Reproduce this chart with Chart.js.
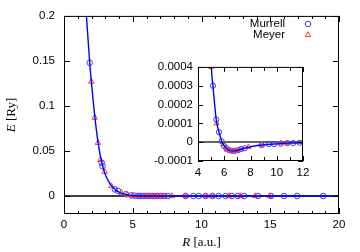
<!DOCTYPE html>
<html><head><meta charset="utf-8">
<script src="https://cdn.jsdelivr.net/npm/chart.js@4/dist/chart.umd.min.js"></script>
<style>
html,body{margin:0;padding:0;background:#fff;}
#wrap{position:relative;width:360px;height:252px;background:#fff;}
#main{position:absolute;left:0;top:0;}
#inset{position:absolute;left:140px;top:55px;}
</style></head><body>
<div id="wrap"><canvas id="main" width="360" height="252"></canvas><canvas id="inset" width="175" height="130"></canvas></div>
<script>
// ---- data ----
const seriesNames = ['Murrell', 'Meyer'];
const murrellR = [1.87, 2.74, 2.80, 3.70, 3.93, 4.50, 4.90, 5.14, 5.39, 5.60, 5.80, 5.98, 6.16, 6.41, 6.59, 6.80, 7.05, 7.30, 7.56, 8.85, 9.40, 9.80, 10.30, 10.80, 11.25, 11.75, 12.20, 12.65, 13.10, 14.10, 15.05, 16.00, 16.95, 18.85];
const murrellE = [0.148, 0.037, 0.033, 0.0074, 0.0058, 0.0019, 0.0007, 0.0003, 0.00012, 0.000053, 0.000005, -0.00002, -0.000032, -0.000043, -0.000046, -0.000046, -0.000043, -0.000037, -0.000032, -0.000015, -0.00001, -0.00001, -0.000008, -0.000005, -0.000005, -0.000003, -0.000002, -0.000002, -0.000001, 0, 0, 0, 0, 0];
const meyerR = [1.99, 2.23, 2.47, 2.65, 2.96, 3.45, 4.17, 4.60, 5.00, 5.42, 5.93, 6.20, 6.40, 6.60, 6.80, 7.00, 7.20, 7.85, 8.86, 10.30, 10.80, 12.00, 12.85, 13.90, 14.95];
const meyerE = [0.127, 0.087, 0.059, 0.040, 0.027, 0.011, 0.0036, 0.0013, 0.0004, 0.0001, -0.00001, -0.00004, -0.000046, -0.000047, -0.000045, -0.000042, -0.000038, -0.000025, -0.000016, -0.000006, -0.000005, -0.000002, -0.000001, 0, 0];
const curveR = [1.55, 1.63, 1.87, 2.00, 2.25, 2.50, 2.75, 3.00, 3.25, 3.50, 3.75, 4.00, 4.50, 5.02, 5.14, 5.39, 5.60, 5.80, 6.00, 6.20, 6.50, 6.80, 7.20, 7.60, 8.00, 8.90, 10.0, 11.0, 12.0, 14.0, 20.0];
const curveE = [0.215, 0.2, 0.148, 0.125, 0.087, 0.057, 0.037, 0.024, 0.016, 0.0105, 0.0068, 0.0044, 0.0018, 0.0004, 0.0003, 0.00012, 0.000053, 0.000005, -0.00002, -0.000036, -0.000046, -0.000046, -0.000039, -0.000031, -0.000024, -0.000015, -0.000009, -0.000005, -0.000003, -0.000001, 0];
const mainXTicks = [0, 5, 10, 15, 20];
const mainXTickLabels = ['0', '5', '10', '15', '20'];
const mainYTicks = [0, 0.05, 0.1, 0.15, 0.2];
const mainYTickLabels = ['0', '0.05', '0.1', '0.15', '0.2'];
const insetXTicks = [4, 6, 8, 10, 12];
const insetXTickLabels = ['4', '6', '8', '10', '12'];
const insetYTicks = [-0.0001, 0, 0.0001, 0.0002, 0.0003, 0.0004];
const insetYTickLabels = ['-0.0001', '0', '0.0001', '0.0002', '0.0003', '0.0004'];
const xTitleParts = ['R', ' [a.u.]'];
const yTitleParts = ['E', ' [Ry]'];

// ---- styling ----
const SANS = '"Liberation Sans", Arial, sans-serif';
const SERIF = '"Liberation Serif", "Times New Roman", serif';
const BLUE_LINE = '#0000ff';
const CIRCLE = '#3a3aff';
const TRI = '#ff3a3a';

function pts(xs, ys) { return xs.map((x, i) => ({ x: x, y: ys[i] })); }
function makeDatasets(r) {
  return [
    { label: 'fit', data: pts(curveR, curveE), showLine: true, pointRadius: 0, borderColor: BLUE_LINE, borderWidth: 1.4, cubicInterpolationMode: 'monotone', fill: false, order: 0 },
    { label: seriesNames[1], data: pts(meyerR, meyerE), showLine: false, pointStyle: 'triangle', pointRadius: r + 0.4, borderColor: TRI, backgroundColor: 'rgba(0,0,0,0)', borderWidth: 1, order: 1 },
    { label: seriesNames[0], data: pts(murrellR, murrellE), showLine: false, pointStyle: 'circle', pointRadius: r, borderColor: CIRCLE, backgroundColor: 'rgba(0,0,0,0)', borderWidth: 1, order: 2 }
  ];
}
function axisCfg(min, max, ticks, labels, size, pad, prop, val) {
  return {
    type: 'linear', min: min, max: max,
    grid: { display: false, drawTicks: false }, border: { display: false },
    afterBuildTicks: (s) => { s.ticks = ticks.map(v => ({ value: v })); },
    ticks: { autoSkip: false, maxRotation: 0, minRotation: 0, padding: pad, color: '#000',
      font: { family: SANS, size: size }, callback: (v, i) => labels[i] },
    afterFit: (s) => { s[prop] = val; }
  };
}
function decorPlugin(o) {
  return {
    id: 'decor',
    beforeDraw(c) {
      if (o.bg) { const a = c.chartArea, ctx = c.ctx; ctx.save(); ctx.fillStyle = '#fff'; ctx.fillRect(a.left, a.top, a.right - a.left, a.bottom - a.top); ctx.restore(); }
    },
    beforeDatasetsDraw(c) {
      const a = c.chartArea, ctx = c.ctx, y0 = Math.round(c.scales.y.getPixelForValue(0));
      ctx.save(); ctx.strokeStyle = o.zeroColor; ctx.lineWidth = 1.5;
      ctx.beginPath(); ctx.moveTo(a.left, y0); ctx.lineTo(a.right, y0); ctx.stroke(); ctx.restore();
    },
    afterDatasetsDraw(c) {
      const a = c.chartArea, ctx = c.ctx, xs = c.scales.x, ys = c.scales.y;
      ctx.save(); ctx.strokeStyle = '#000'; ctx.lineWidth = 1;
      ctx.strokeRect(a.left + 0.5, a.top + 0.5, a.right - a.left - 1, a.bottom - a.top - 1);
      ctx.beginPath();
      for (let v = xs.min; v <= xs.max + 1e-9; v += o.xMinorStep) {
        const px = Math.round(xs.getPixelForValue(v)) + 0.5;
        const major = o.xTicks.some(t => Math.abs(t - v) < 1e-9);
        const L = major ? o.majLen : o.minLen;
        ctx.moveTo(px, a.bottom); ctx.lineTo(px, a.bottom - L);
        ctx.moveTo(px, a.top); ctx.lineTo(px, a.top + L);
      }
      o.yTicks.forEach(v => {
        const py = Math.round(ys.getPixelForValue(v)) + 0.5;
        ctx.moveTo(a.left, py); ctx.lineTo(a.left + o.majLen, py);
        ctx.moveTo(a.right, py); ctx.lineTo(a.right - o.majLen, py);
      });
      ctx.stroke(); ctx.restore();
    },
    afterDraw(c) { if (o.extra) o.extra(c); }
  };
}
function drawTwoPart(ctx, parts, x, y, size) {
  const f1 = 'italic ' + size + 'px ' + SERIF, f2 = size + 'px ' + SERIF;
  ctx.font = f1; const w1 = ctx.measureText(parts[0]).width;
  ctx.font = f2; const w2 = ctx.measureText(parts[1]).width;
  const x0 = x - (w1 + w2) / 2;
  ctx.textBaseline = 'middle'; ctx.textAlign = 'left'; ctx.fillStyle = '#000';
  ctx.font = f1; ctx.fillText(parts[0], x0, y);
  ctx.font = f2; ctx.fillText(parts[1], x0 + w1, y);
}
function mainExtras(c) {
  const ctx = c.ctx, a = c.chartArea;
  ctx.save();
  drawTwoPart(ctx, xTitleParts, (a.left + a.right) / 2, 243, 13);
  ctx.translate(12, (a.top + a.bottom) / 2); ctx.rotate(-Math.PI / 2);
  drawTwoPart(ctx, yTitleParts, 0, 0, 13);
  ctx.restore();
  // legend (gnuplot style: text right-aligned, symbol to the right)
  ctx.save();
  ctx.font = '11.5px ' + SANS; ctx.textAlign = 'right'; ctx.textBaseline = 'middle'; ctx.fillStyle = '#000';
  const tx = 285, sx = 308, rows = [24, 35];
  ctx.fillText(seriesNames[0], tx, rows[0]);
  ctx.fillText(seriesNames[1], tx, rows[1]);
  ctx.lineWidth = 1;
  ctx.strokeStyle = CIRCLE; ctx.beginPath(); ctx.arc(sx, rows[0], 2.8, 0, Math.PI * 2); ctx.stroke();
  ctx.strokeStyle = TRI; ctx.beginPath();
  const r = 3.2;
  ctx.moveTo(sx, rows[1] - r); ctx.lineTo(sx + r * 0.866, rows[1] + r * 0.5); ctx.lineTo(sx - r * 0.866, rows[1] + r * 0.5); ctx.closePath(); ctx.stroke();
  ctx.restore();
}

new Chart(document.getElementById('main'), {
  type: 'scatter',
  data: { datasets: makeDatasets(2.8) },
  options: {
    responsive: false, animation: false, devicePixelRatio: 1,
    layout: { padding: { top: 14, right: 21, left: 0, bottom: 0 } },
    plugins: { legend: { display: false }, tooltip: { enabled: false } },
    scales: {
      x: axisCfg(0, 20, mainXTicks, mainXTickLabels, 11.5, 4, 'height', 38),
      y: axisCfg(-0.02, 0.2, mainYTicks, mainYTickLabels, 11.5, 9, 'width', 64)
    }
  },
  plugins: [decorPlugin({ bg: false, zeroColor: '#000', xTicks: mainXTicks, yTicks: mainYTicks, xMinorStep: 1, majLen: 6, minLen: 3, extra: mainExtras })]
});

new Chart(document.getElementById('inset'), {
  type: 'scatter',
  data: { datasets: makeDatasets(2.6) },
  options: {
    responsive: false, animation: false, devicePixelRatio: 1,
    layout: { padding: { top: 8, right: 12, left: 0, bottom: 0 } },
    plugins: { legend: { display: false }, tooltip: { enabled: false } },
    scales: {
      x: axisCfg(4, 12, insetXTicks, insetXTickLabels, 11.5, 5, 'height', 24),
      y: axisCfg(-0.0001, 0.0004, insetYTicks, insetYTickLabels, 11.5, 5, 'width', 58)
    }
  },
  plugins: [decorPlugin({ bg: true, zeroColor: '#333', xTicks: insetXTicks, yTicks: insetYTicks, xMinorStep: 1, majLen: 5, minLen: 4 })]
});
</script>
</body></html>
